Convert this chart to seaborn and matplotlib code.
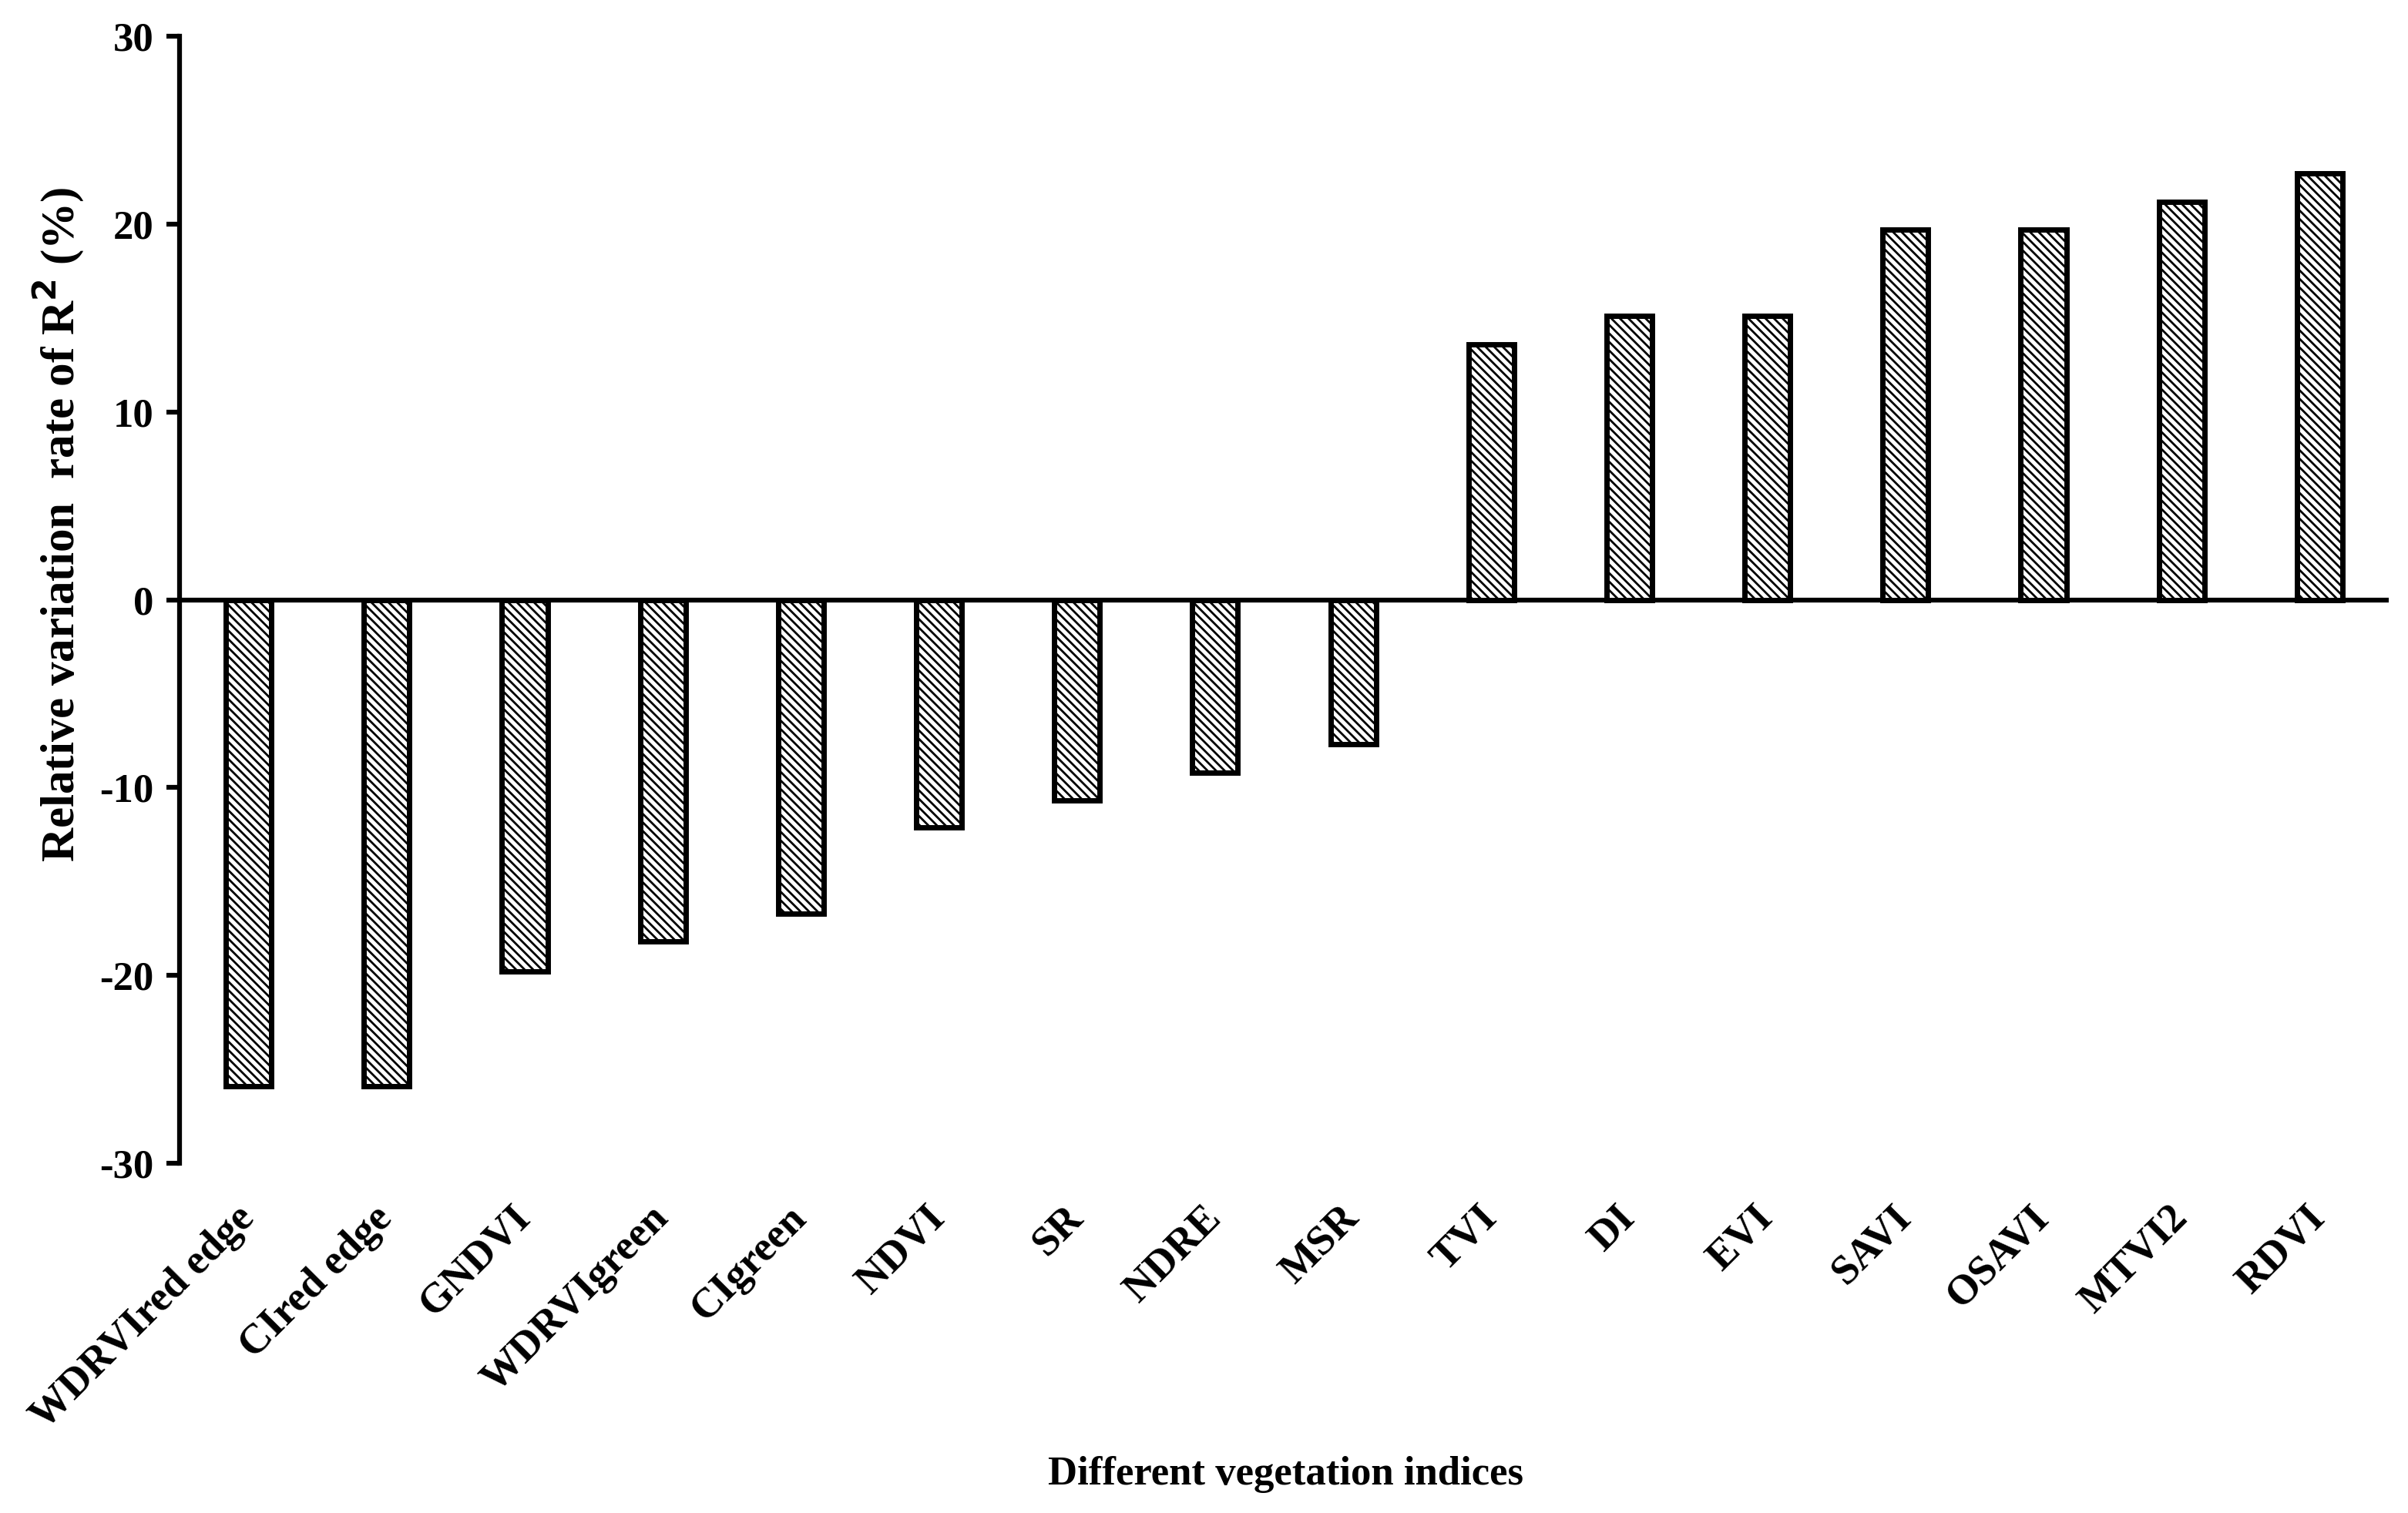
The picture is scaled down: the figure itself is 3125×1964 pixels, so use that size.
import matplotlib
matplotlib.use("Agg")
import matplotlib.pyplot as plt
import seaborn as sns
import pandas as pd

categories = ["WDRVIred edge", "CIred edge", "GNDVI", "WDRVIgreen", "CIgreen",
              "NDVI", "SR", "NDRE", "MSR", "TVI", "DI", "EVI", "SAVI",
              "OSAVI", "MTVI2", "RDVI"]
values = [-25.9, -25.9, -19.8, -18.2, -16.7, -12.1, -10.7, -9.2, -7.7,
          13.6, 15.1, 15.1, 19.7, 19.7, 21.2, 22.7]
yticks = [-30, -20, -10, 0, 10, 20, 30]

sns.set_theme(style="white")
plt.rcParams['font.family'] = ['Liberation Serif', 'DejaVu Serif']
plt.rcParams['font.weight'] = 'bold'
plt.rcParams['text.color'] = 'black'
plt.rcParams['xtick.color'] = 'black'
plt.rcParams['ytick.color'] = 'black'
plt.rcParams['hatch.linewidth'] = 2.0
plt.rcParams['hatch.color'] = 'black'

df = pd.DataFrame({"index": categories, "value": values})

fig = plt.figure(figsize=(31.25, 19.64), dpi=100)
ax = fig.add_axes([233/3125, 1 - 1510/1964, (3100-233)/3125, (1510-47)/1964])

sns.barplot(data=df, x="index", y="value", order=categories, color="white",
            saturation=1, edgecolor="black", linewidth=5, width=0.33, ax=ax)
for p in ax.patches:
    p.set_hatch('\\\\\\')
    p.set_edgecolor('black')

ax.set_xlim(-0.5, len(categories) - 0.5)
ax.set_ylim(-30, 30)
ax.set_yticks(yticks)
ax.set_yticklabels([str(t) for t in yticks], fontsize=38, fontweight='bold',
                   color='black')
ax.axhline(0, color='black', lw=4.5, zorder=0.5)

for s in ['top', 'right', 'bottom']:
    ax.spines[s].set_visible(False)
ax.spines['left'].set_linewidth(4.5)
ax.spines['left'].set_color('black')
ax.tick_params(axis='y', direction='out', length=12, width=4.5, color='black',
               pad=12, left=True)
ax.tick_params(axis='x', length=0, pad=46)
ax.set_xticks(range(len(categories)))
ax.set_xticklabels(categories, rotation=45, ha='right', va='center',
                   rotation_mode='anchor', fontsize=39, fontweight='bold',
                   color='black')

ax.set_xlabel("")
ax.set_ylabel("")
fig.text(76/3125, 1 - 681/1964, "Relative variation  rate of R$^2$ (%)",
         rotation=90, ha='center', va='center', fontsize=44, fontweight='bold',
         color='black')
fig.text(1668/3125, 1 - 1914/1964, "Different vegetation indices",
         ha='center', va='center', fontsize=38, fontweight='bold', color='black')

fig.savefig("out.png", dpi=100, facecolor='white')
